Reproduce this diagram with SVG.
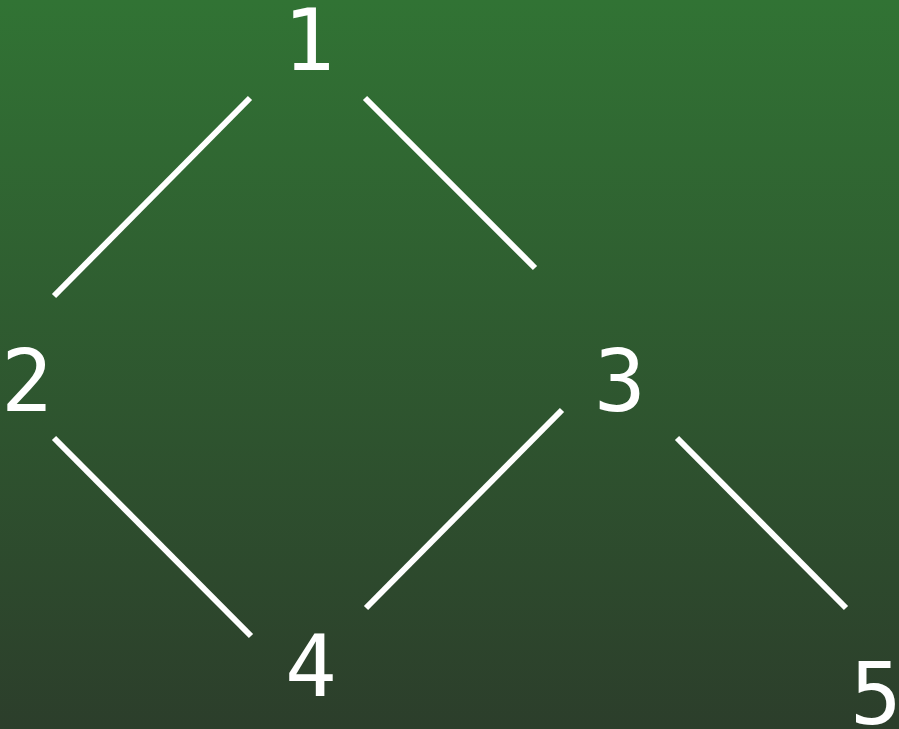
<svg xmlns="http://www.w3.org/2000/svg" width="899" height="729" viewBox="0 0 899 729">
<defs>
<linearGradient id="bg" x1="0" y1="0" x2="0" y2="1">
<stop offset="0" stop-color="#317334"/>
<stop offset="1" stop-color="#2c3e2b"/>
</linearGradient>
<style>
.lbl{font-family:"DejaVu Sans Mono",monospace;font-size:86px;fill:#ffffff;text-anchor:middle}
.edge{stroke:#ffffff;stroke-width:6;fill:none;stroke-linecap:butt}
</style>
</defs>
<rect x="0" y="0" width="899" height="729" fill="url(#bg)"/>
<g id="connectors">
<line class="edge" x1="250" y1="98" x2="54" y2="296"/>
<line class="edge" x1="365" y1="98" x2="535" y2="268"/>
<line class="edge" x1="54" y1="438" x2="251" y2="636"/>
<line class="edge" x1="562" y1="410" x2="366" y2="608"/>
<line class="edge" x1="677" y1="438" x2="846" y2="608"/>
</g>
<g id="node1"><text class="lbl" x="309" y="70">1</text></g>
<g id="node2"><text class="lbl" x="27" y="411">2</text></g>
<g id="node3"><text class="lbl" x="620" y="411">3</text></g>
<g id="node4"><text class="lbl" x="311" y="696">4</text></g>
<g id="node5"><text class="lbl" x="876" y="724">5</text></g>
</svg>
